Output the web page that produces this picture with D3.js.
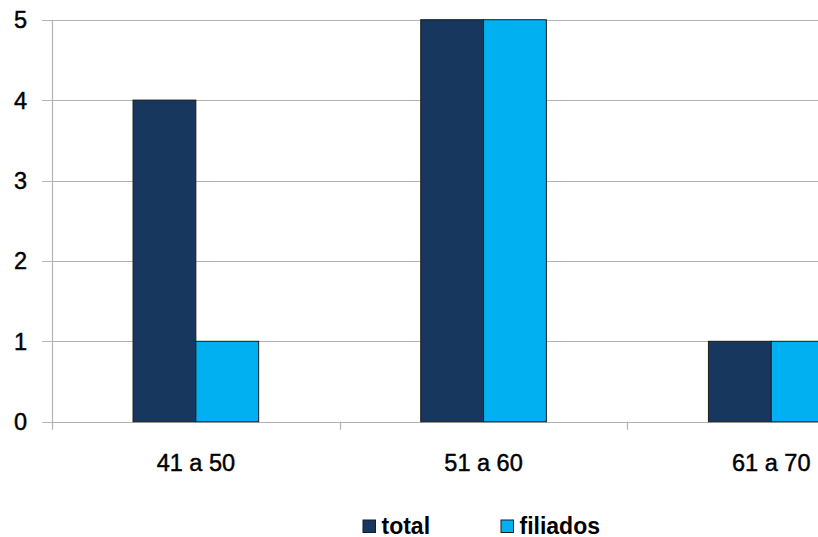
<!DOCTYPE html>
<html><head><meta charset="utf-8">
<script src="https://cdn.jsdelivr.net/npm/d3@7"></script>
<style>body{margin:0;background:#fff}svg{display:block}text{font-family:"Liberation Sans",Arial,sans-serif}</style>
</head><body>
<svg id="c" width="818" height="537"></svg>
<script>
const categories = ["41 a 50", "51 a 60", "61 a 70"];
const seriesNames = ["total", "filiados"];
const totalValues = [4, 5, 1];
const filiadosValues = [1, 5, 1];
const yTicks = [0, 1, 2, 3, 4, 5];
const colors = {total: "#17375e", filiados: "#00b0f0"};

const svg = d3.select("#c");
const plotLeft = 52, bandW = 287.7, plotTop = 19.7, plotBottom = 421.7;
const x = d3.scaleBand().domain(categories).range([plotLeft, plotLeft + bandW * 3]).padding(0);
const x1 = d3.scaleBand().domain(seriesNames).range([0, x.bandwidth()]).paddingInner(0).paddingOuter(1.29);
const y = d3.scaleLinear().domain([0, 5]).range([plotBottom, plotTop]);

// gridlines
svg.append("g").selectAll("line").data(yTicks).join("line")
  .attr("x1", 42).attr("x2", 818)
  .attr("y1", d => Math.round(y(d)) + 0.5).attr("y2", d => Math.round(y(d)) + 0.5)
  .attr("stroke", "#b3b3b3").attr("stroke-width", 1.2);

// y labels
svg.append("g").selectAll("text").data(yTicks).join("text")
  .attr("x", 27).attr("y", d => y(d) + 8.5)
  .attr("text-anchor", "end").attr("font-size", 23.5).attr("fill", "#000")
  .attr("stroke", "#000").attr("stroke-width", 0.45)
  .text(d => d);

// y axis line
svg.append("line").attr("x1", plotLeft + 0.5).attr("x2", plotLeft + 0.5)
  .attr("y1", plotTop).attr("y2", plotBottom + 8).attr("stroke", "#b3b3b3").attr("stroke-width", 1.2);

// x ticks
svg.append("g").selectAll("line").data([1, 2, 3]).join("line")
  .attr("x1", i => Math.round(plotLeft + bandW * i) + 0.5).attr("x2", i => Math.round(plotLeft + bandW * i) + 0.5)
  .attr("y1", plotBottom).attr("y2", plotBottom + 8).attr("stroke", "#b3b3b3").attr("stroke-width", 1.2);

// bars
const data = categories.map((c, i) => ({cat: c, total: totalValues[i], filiados: filiadosValues[i]}));
const g = svg.append("g").selectAll("g").data(data).join("g")
  .attr("transform", d => `translate(${x(d.cat)},0)`);
g.selectAll("rect").data(d => seriesNames.map(s => ({s, v: d[s]}))).join("rect")
  .attr("x", d => x1(d.s)).attr("width", x1.bandwidth())
  .attr("y", d => y(d.v)).attr("height", d => y(0) - y(d.v))
  .attr("fill", d => colors[d.s]).attr("stroke", "#1c1c1c").attr("stroke-width", 1);

// x labels
svg.append("g").selectAll("text").data(categories).join("text")
  .attr("x", d => x(d) + x.bandwidth() / 2).attr("y", 471)
  .attr("text-anchor", "middle").attr("font-size", 23.5).attr("fill", "#000")
  .attr("stroke", "#000").attr("stroke-width", 0.45)
  .text(d => d);

// legend
const legX = [363, 501];
const lg = svg.append("g").selectAll("g").data(seriesNames).join("g")
  .attr("transform", (d, i) => `translate(${legX[i]},520)`);
lg.append("rect").attr("width", 12.5).attr("height", 12.5)
  .attr("fill", d => colors[d]).attr("stroke", "#1c1c1c").attr("stroke-width", 1);
lg.append("text").attr("x", 18.5).attr("y", 13.5).attr("font-size", 23).attr("font-weight", "bold")
  .attr("fill", "#000").text(d => d);
</script>
</body></html>
